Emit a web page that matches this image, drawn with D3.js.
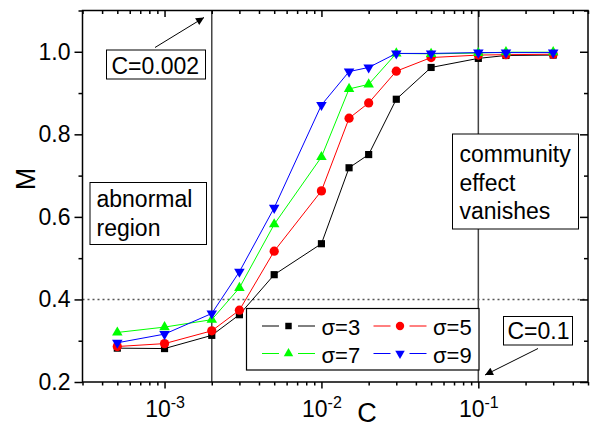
<!DOCTYPE html>
<html>
<head>
<meta charset="utf-8">
<script src="https://cdn.jsdelivr.net/npm/d3@7"></script>
<style>
  body { margin: 0; background: #fff; }
  svg { font-family: "Liberation Sans", Arial, sans-serif; }
  .axis path, .axis line { stroke: #000; stroke-width: 1.5; }
</style>
</head>
<body>
<svg id="chart" width="590" height="423"></svg>
<script>
// data
var cValues = [0.0005, 0.001, 0.002, 0.003, 0.005, 0.01, 0.015, 0.02, 0.03, 0.05, 0.1, 0.15, 0.3];
var sigma3 = [0.282, 0.281, 0.313, 0.363, 0.460, 0.535, 0.719, 0.751, 0.885, 0.962, 0.984, 0.991, 0.992];
var sigma5 = [0.286, 0.293, 0.324, 0.374, 0.517, 0.663, 0.839, 0.876, 0.953, 0.986, 0.992, 0.993, 0.994];
var sigma7 = [0.320, 0.333, 0.351, 0.428, 0.582, 0.745, 0.910, 0.921, 0.996, 0.995, 0.997, 0.999, 0.999];
var sigma9 = [0.295, 0.316, 0.366, 0.467, 0.622, 0.871, 0.952, 0.962, 0.996, 0.996, 0.998, 0.998, 0.998];
var seriesNames = ["σ=3", "σ=5", "σ=7", "σ=9"];
var xMajorTicks = [1e-3, 1e-2, 1e-1];
var yMajorTicks = [0.2, 0.4, 0.6, 0.8, 1.0];
var yMinorTicks = [0.3, 0.5, 0.7, 0.9, 1.1];
var markLines = [0.002, 0.1];
var thresholdM = 0.4;

var series = [
    { name: seriesNames[0], values: sigma3, color: "#000000", symbol: "square" },
    { name: seriesNames[1], values: sigma5, color: "#ff0000", symbol: "circle" },
    { name: seriesNames[2], values: sigma7, color: "#00ff00", symbol: "up" },
    { name: seriesNames[3], values: sigma9, color: "#0000ff", symbol: "down" }
];

var FONT = "Liberation Sans, Arial, sans-serif";
var pLeft = 82.5, pRight = 588, pTop = 10.5, pBottom = 382;
var svg = d3.select("#chart");

var x = d3.scaleLog().domain([3e-4, 0.5]).range([pLeft, pRight]);
var y = d3.scaleLinear().domain([0.2, 1.1]).range([pBottom, pTop]);

// minor ticks on the log axis: 2..9 of every decade inside the domain
var xMinorTicks = [];
[1e-4, 1e-3, 1e-2, 1e-1].forEach(function (dec) {
    for (var k = 2; k <= 9; k++) {
        var v = dec * k;
        if (v >= 3e-4 && v <= 0.5) xMinorTicks.push(v);
    }
});

function markerPath(type, size) {
    var sym;
    if (type === "square") sym = d3.symbol(d3.symbolSquare, size * 0.8);
    else if (type === "circle") sym = d3.symbol(d3.symbolCircle, size * 1.05);
    else sym = d3.symbol(d3.symbolTriangle, size * 0.75);
    return sym();
}
function markerTransform(type, px, py) {
    return "translate(" + px + "," + py + ")" + (type === "down" ? " rotate(180)" : "");
}

// vertical marker lines and the dotted threshold
svg.append("g").selectAll("line.mark")
    .data(markLines)
    .enter().append("line")
    .attr("class", "mark")
    .attr("x1", function (d) { return x(d); })
    .attr("x2", function (d) { return x(d); })
    .attr("y1", pTop)
    .attr("y2", pBottom)
    .attr("stroke", "#444")
    .attr("stroke-width", 1.5);

svg.append("line")
    .attr("x1", pLeft).attr("x2", pRight)
    .attr("y1", y(thresholdM)).attr("y2", y(thresholdM))
    .attr("stroke", "#555")
    .attr("stroke-width", 1.4)
    .attr("stroke-dasharray", "2,3");

// series
var line = d3.line()
    .x(function (d) { return x(d[0]); })
    .y(function (d) { return y(d[1]); });

var sGroup = svg.append("g").selectAll("g.series")
    .data(series)
    .enter().append("g")
    .attr("class", "series");

sGroup.append("path")
    .attr("d", function (s) { return line(cValues.map(function (c, i) { return [c, s.values[i]]; })); })
    .attr("fill", "none")
    .attr("stroke", function (s) { return s.color; })
    .attr("stroke-width", 1);

sGroup.each(function (s) {
    d3.select(this).selectAll("path.pt")
        .data(cValues.map(function (c, i) { return [c, s.values[i]]; }))
        .enter().append("path")
        .attr("class", "pt")
        .attr("d", markerPath(s.symbol, 64))
        .attr("transform", function (d) { return markerTransform(s.symbol, x(d[0]), y(d[1])); })
        .attr("fill", s.color);
});

// axes
function styleAxis(g) {
    g.attr("class", "axis").attr("font-family", FONT).attr("font-size", 23);
    g.select(".domain").remove();
}

var xAxisMinor = d3.axisBottom(x).tickValues(xMinorTicks).tickSize(3.5).tickFormat("");
var xAxisMajor = d3.axisBottom(x).tickValues(xMajorTicks).tickSize(6.5).tickPadding(12)
    .tickFormat(function (d) { return Math.round(Math.log10(d)); });

svg.append("g").attr("transform", "translate(0," + pBottom + ")").call(xAxisMinor).call(styleAxis);
var xg = svg.append("g").attr("transform", "translate(0," + pBottom + ")").call(xAxisMajor).call(styleAxis);
xg.selectAll("text").each(function (d) {
    var t = d3.select(this);
    var e = Math.round(Math.log10(d));
    t.text(null).attr("dy", "0.71em").attr("text-anchor", "middle");
    t.append("tspan").text("10");
    t.append("tspan").attr("dy", "-0.55em").attr("font-size", "16px").text(String(e));
});

// top mirror, ticks pointing in
svg.append("g").attr("transform", "translate(0," + pTop + ")")
    .call(d3.axisBottom(x).tickValues(xMinorTicks).tickSize(3.5).tickFormat("")).call(styleAxis);
svg.append("g").attr("transform", "translate(0," + pTop + ")")
    .call(d3.axisBottom(x).tickValues(xMajorTicks).tickSize(6.5).tickFormat("")).call(styleAxis);

var yAxisMajor = d3.axisLeft(y).tickValues(yMajorTicks).tickSize(8).tickPadding(4).tickFormat(d3.format(".1f"));
var yAxisMinor = d3.axisLeft(y).tickValues(yMinorTicks).tickSize(4).tickFormat("");
svg.append("g").attr("transform", "translate(" + pLeft + ",0)").call(yAxisMajor).call(styleAxis);
svg.append("g").attr("transform", "translate(" + pLeft + ",0)").call(yAxisMinor).call(styleAxis);
svg.append("g").attr("transform", "translate(" + pRight + ",0)")
    .call(d3.axisLeft(y).tickValues(yMajorTicks).tickSize(8).tickFormat("")).call(styleAxis);
svg.append("g").attr("transform", "translate(" + pRight + ",0)")
    .call(d3.axisLeft(y).tickValues(yMinorTicks).tickSize(4).tickFormat("")).call(styleAxis);

// frame
svg.append("rect")
    .attr("x", pLeft).attr("y", pTop)
    .attr("width", pRight - pLeft).attr("height", pBottom - pTop)
    .attr("fill", "none").attr("stroke", "#000").attr("stroke-width", 1.5);

// axis titles
svg.append("text")
    .attr("transform", "translate(35,179) rotate(-90)")
    .attr("text-anchor", "middle")
    .attr("font-size", "27px")
    .text("M");
svg.append("text")
    .attr("x", 367).attr("y", 422)
    .attr("text-anchor", "middle")
    .attr("font-size", "27px")
    .text("C");

// annotation boxes
function textBox(bx, by, bw, bh, lines, tx, ty, lh) {
    svg.append("rect")
        .attr("x", bx).attr("y", by).attr("width", bw).attr("height", bh)
        .attr("fill", "#fff").attr("stroke", "#000").attr("stroke-width", 1);
    var t = svg.append("text").attr("font-size", "23px");
    lines.forEach(function (l, i) {
        t.append("tspan").attr("x", tx).attr("y", ty + i * lh).text(l);
    });
}
textBox(106.5, 50, 99, 29, ["C=0.002"], 111.5, 74, 0);
textBox(90, 182.5, 116.5, 62, ["abnormal", "region"], 96.5, 207, 29);
textBox(452.5, 134, 126, 95, ["community", "effect", "vanishes"], 459.5, 162, 28.5);
textBox(503.5, 316.5, 69, 28.5, ["C=0.1"], 507.5, 338.5, 0);

// arrows
svg.append("defs").append("marker")
    .attr("id", "arrow")
    .attr("viewBox", "0 0 10 10")
    .attr("refX", 10).attr("refY", 5)
    .attr("markerWidth", 12).attr("markerHeight", 8)
    .attr("markerUnits", "userSpaceOnUse")
    .attr("orient", "auto")
    .append("path").attr("d", "M0,0L10,5L0,10z").attr("fill", "#000");

var arrows = [[155, 47.5, 204, 17.5], [538, 348.5, 485, 375]];
svg.append("g").selectAll("line")
    .data(arrows)
    .enter().append("line")
    .attr("x1", function (d) { return d[0]; })
    .attr("y1", function (d) { return d[1]; })
    .attr("x2", function (d) { return d[2]; })
    .attr("y2", function (d) { return d[3]; })
    .attr("stroke", "#000").attr("stroke-width", 1)
    .attr("marker-end", "url(#arrow)");

// legend
svg.append("rect")
    .attr("x", 246.5).attr("y", 308.5).attr("width", 232.5).attr("height", 61.5)
    .attr("fill", "#fff").attr("stroke", "#000").attr("stroke-width", 1.2);

var legendPos = [[262, 326], [373.5, 326], [262, 353.5], [373.5, 353.5]];
var leg = svg.append("g").selectAll("g.leg")
    .data(series)
    .enter().append("g")
    .attr("class", "leg")
    .attr("transform", function (s, i) { return "translate(" + legendPos[i][0] + "," + legendPos[i][1] + ")"; });
leg.append("line").attr("x1", 0).attr("x2", 17)
    .attr("stroke", function (s) { return s.color; }).attr("stroke-width", 1);
leg.append("line").attr("x1", 36).attr("x2", 53)
    .attr("stroke", function (s) { return s.color; }).attr("stroke-width", 1);
leg.append("path")
    .attr("d", function (s) { return markerPath(s.symbol, 52); })
    .attr("transform", function (s) { return markerTransform(s.symbol, 26.5, 0); })
    .attr("fill", function (s) { return s.color; });
leg.append("text")
    .attr("x", 59.5).attr("y", 9)
    .attr("font-size", "22px")
    .text(function (s) { return s.name; });
</script>
</body>
</html>
